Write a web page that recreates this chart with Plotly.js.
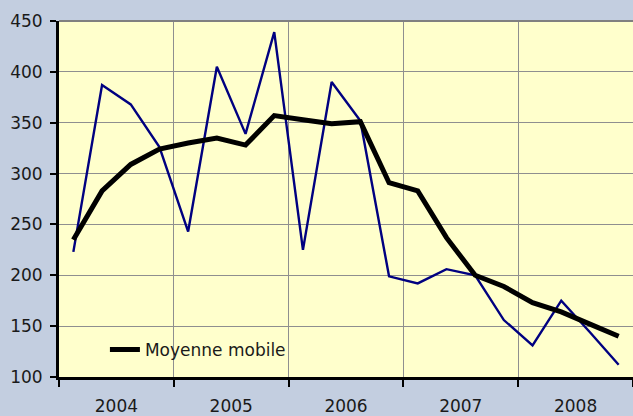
<!DOCTYPE html>
<html>
<head>
<meta charset="utf-8">
<script src="https://cdn.plot.ly/plotly-3.0.1.min.js"></script>
<style>html,body{margin:0;padding:0;background:#c3cee0;}</style>
</head>
<body>
<div id="chart" style="width:633px;height:416px;"></div>
<script>
// Quarterly values, 2004 Q1 .. 2008 Q4
const years = ["2004", "2005", "2006", "2007", "2008"];
const quarterlyValues = [223, 387, 368, 326, 243, 405, 339, 439, 225, 390, 352, 199, 192, 206, 200, 156, 131, 175, 144, 112];
const movingAverage = [235, 283, 309, 324, 330, 335, 328, 357, 353, 349, 351, 291, 283, 237, 200, 189, 173, 164, 152, 140];
const seriesName = "Moyenne mobile";

const quartersPerYear = 4;
const xPos = quarterlyValues.map((v, i) => i + 0.5);
const yearCenters = years.map((y, i) => i * quartersPerYear + quartersPerYear / 2);
const yearBounds = [];
for (let i = 0; i <= years.length; i++) yearBounds.push(i * quartersPerYear);

const font = {family: "DejaVu Sans", size: 17, color: "#1a1a1a"};

const data = [
  {x: xPos, y: quarterlyValues, type: "scatter", mode: "lines", showlegend: false,
   line: {color: "#000080", width: 2.4}},
  {x: xPos, y: movingAverage, type: "scatter", mode: "lines", name: seriesName,
   line: {color: "#000000", width: 5}}
];

const layout = {
  width: 633, height: 416,
  margin: {l: 59, r: 0, t: 21, b: 39},
  paper_bgcolor: "#c3cee0",
  plot_bgcolor: "#ffffcc",
  font: font,
  showlegend: true,
  legend: {x: 0.08, y: 0.076, xanchor: "left", yanchor: "middle",
           bgcolor: "rgba(0,0,0,0)", font: font},
  xaxis: {
    range: [0, years.length * quartersPerYear],
    tickvals: yearCenters, ticktext: years,
    ticks: "", showgrid: false, zeroline: false,
    showline: true, linecolor: "#000", linewidth: 3,
    ticklabelstandoff: 12,
    minor: {tickvals: yearBounds, ticks: "outside", ticklen: 7, tickwidth: 2,
            tickcolor: "#000", showgrid: true, gridcolor: "#8f8f8f", gridwidth: 1}
  },
  yaxis: {
    range: [100, 450], dtick: 50, tick0: 100,
    ticks: "outside", ticklen: 6, tickwidth: 2, tickcolor: "#000",
    showgrid: true, gridcolor: "#8f8f8f", gridwidth: 1, zeroline: false,
    showline: true, linecolor: "#000", linewidth: 3,
    ticklabelstandoff: 4
  },
  shapes: [
    {type: "line", xref: "paper", yref: "paper", x0: 0, x1: 1, y0: 1, y1: 1,
     line: {color: "#808080", width: 2}}
  ]
};

Plotly.newPlot("chart", data, layout, {displayModeBar: false, staticPlot: true});
</script>
</body>
</html>
